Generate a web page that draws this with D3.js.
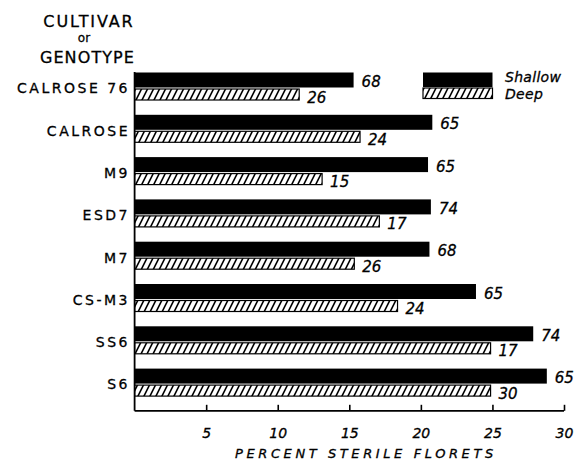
<!DOCTYPE html>
<html>
<head>
<meta charset="utf-8">
<script src="https://cdn.jsdelivr.net/npm/d3@7"></script>
<style>
  html, body { margin: 0; padding: 0; background: #fff; }
  svg { display: block; }
  text { font-family: "DejaVu Sans", sans-serif; fill: #000; stroke: #000; stroke-width: 0.3px; }
</style>
</head>
<body>
<div id="chart"></div>
<script>
const categories = ["CALROSE 76", "CALROSE", "M9", "ESD7", "M7", "CS-M3", "SS6", "S6"];
const shallowValues = [15.3, 20.8, 20.5, 20.7, 20.6, 23.85, 27.85, 28.8];
const deepValues = [11.5, 15.75, 13.1, 17.1, 15.35, 18.37, 24.87, 24.87];
const shallowLabels = [68, 65, 65, 74, 68, 65, 74, 65];
const deepLabels = [26, 24, 15, 17, 26, 24, 17, 30];
const xTicks = [5, 10, 15, 20, 25, 30];
const seriesNames = ["Shallow", "Deep"];

const W = 578, H = 466;
const svg = d3.select("#chart").append("svg").attr("width", W).attr("height", H);

const defs = svg.append("defs");
const pat = defs.append("pattern")
  .attr("id", "hatch").attr("patternUnits", "userSpaceOnUse")
  .attr("width", 6).attr("height", 12);
pat.append("rect").attr("width", 6).attr("height", 12).attr("fill", "#fff");
pat.append("path")
  .attr("d", "M0,12 L6,0 M-1,2 L1,-2 M5,14 L7,10")
  .attr("stroke", "#000").attr("stroke-width", 1.6);

const x = d3.scaleLinear().domain([0, 30]).range([134.6, 564]);
const y = d3.scaleBand().domain(categories).range([72.5, 410.9]).padding(0);

const blackH = 15, hatchTop = 16.5, hatchH = 11;

// Header
svg.append("text").attr("x", 89).attr("y", 26.5).attr("text-anchor", "middle")
  .style("font-size", "16px").style("letter-spacing", "1.9px").text("CULTIVAR");
svg.append("text").attr("x", 84).attr("y", 41.7).attr("text-anchor", "middle")
  .style("font-size", "12px").text("or");
svg.append("text").attr("x", 87.5).attr("y", 63).attr("text-anchor", "middle")
  .style("font-size", "16px").style("letter-spacing", "1.1px").text("GENOTYPE");

// Category labels
svg.append("g").selectAll("text").data(categories).join("text")
  .attr("x", 130).attr("y", d => y(d) + 20.8)
  .attr("text-anchor", "end")
  .style("font-size", "14px").style("letter-spacing", "2.5px")
  .text(d => d);

// Bars
const g = svg.append("g");
g.selectAll("rect.sh").data(categories).join("rect").attr("class", "sh")
  .attr("x", x(0)).attr("y", d => y(d))
  .attr("width", (d, i) => x(shallowValues[i]) - x(0))
  .attr("height", blackH).attr("fill", "#000");
g.selectAll("rect.dp").data(categories).join("rect").attr("class", "dp")
  .attr("x", x(0)).attr("y", d => y(d) + hatchTop)
  .attr("width", (d, i) => x(deepValues[i]) - x(0))
  .attr("height", hatchH).attr("fill", "url(#hatch)")
  .attr("stroke", "#000").attr("stroke-width", 1.2);

// Value labels
g.selectAll("text.sl").data(categories).join("text").attr("class", "sl")
  .attr("x", (d, i) => x(shallowValues[i]) + 8).attr("y", d => y(d) + 14.5)
  .style("font-size", "15px").style("font-style", "italic")
  .text((d, i) => shallowLabels[i]);
g.selectAll("text.dl").data(categories).join("text").attr("class", "dl")
  .attr("x", (d, i) => x(deepValues[i]) + 8).attr("y", d => y(d) + 30)
  .style("font-size", "15px").style("font-style", "italic")
  .text((d, i) => deepLabels[i]);

// Axes
const axisY = 410.8;
svg.append("line").attr("x1", x(0)).attr("x2", x(0)).attr("y1", 72).attr("y2", axisY)
  .attr("stroke", "#000").attr("stroke-width", 1.8);
const xAxis = d3.axisBottom(x).tickValues(xTicks).tickSize(-6).tickSizeOuter(0).tickPadding(0)
  .tickFormat(d => d);
const ax = svg.append("g").attr("transform", `translate(0,${axisY})`).call(xAxis);
ax.select(".domain").attr("stroke", "#000").attr("stroke-width", 1.8)
  .attr("d", `M${x(0)},0H${x(30)}`);
ax.selectAll(".tick line").attr("stroke", "#000").attr("stroke-width", 1.6);
ax.selectAll(".tick text").attr("y", 27).attr("dy", 0)
  .style("font-family", "DejaVu Sans").style("font-size", "14px")
  .style("font-style", "italic").attr("fill", "#000");

svg.append("text").attr("x", 235).attr("y", 458)
  .style("font-size", "13px").style("font-style", "italic").style("letter-spacing", "3.6px")
  .text("PERCENT STERILE FLORETS");

// Legend
const lg = svg.append("g");
lg.append("rect").attr("x", 423).attr("y", 72.5).attr("width", 69.5).attr("height", 14.5).attr("fill", "#000");
lg.append("rect").attr("x", 423).attr("y", 88).attr("width", 69.5).attr("height", 10.5)
  .attr("fill", "url(#hatch)").attr("stroke", "#000").attr("stroke-width", 1.2);
lg.append("text").attr("x", 505).attr("y", 82).style("font-size", "14px").style("font-style", "italic")
  .style("letter-spacing", "0.3px").text(seriesNames[0]);
lg.append("text").attr("x", 505).attr("y", 99).style("font-size", "14px").style("font-style", "italic")
  .style("letter-spacing", "0.3px").text(seriesNames[1]);
</script>
</body>
</html>
